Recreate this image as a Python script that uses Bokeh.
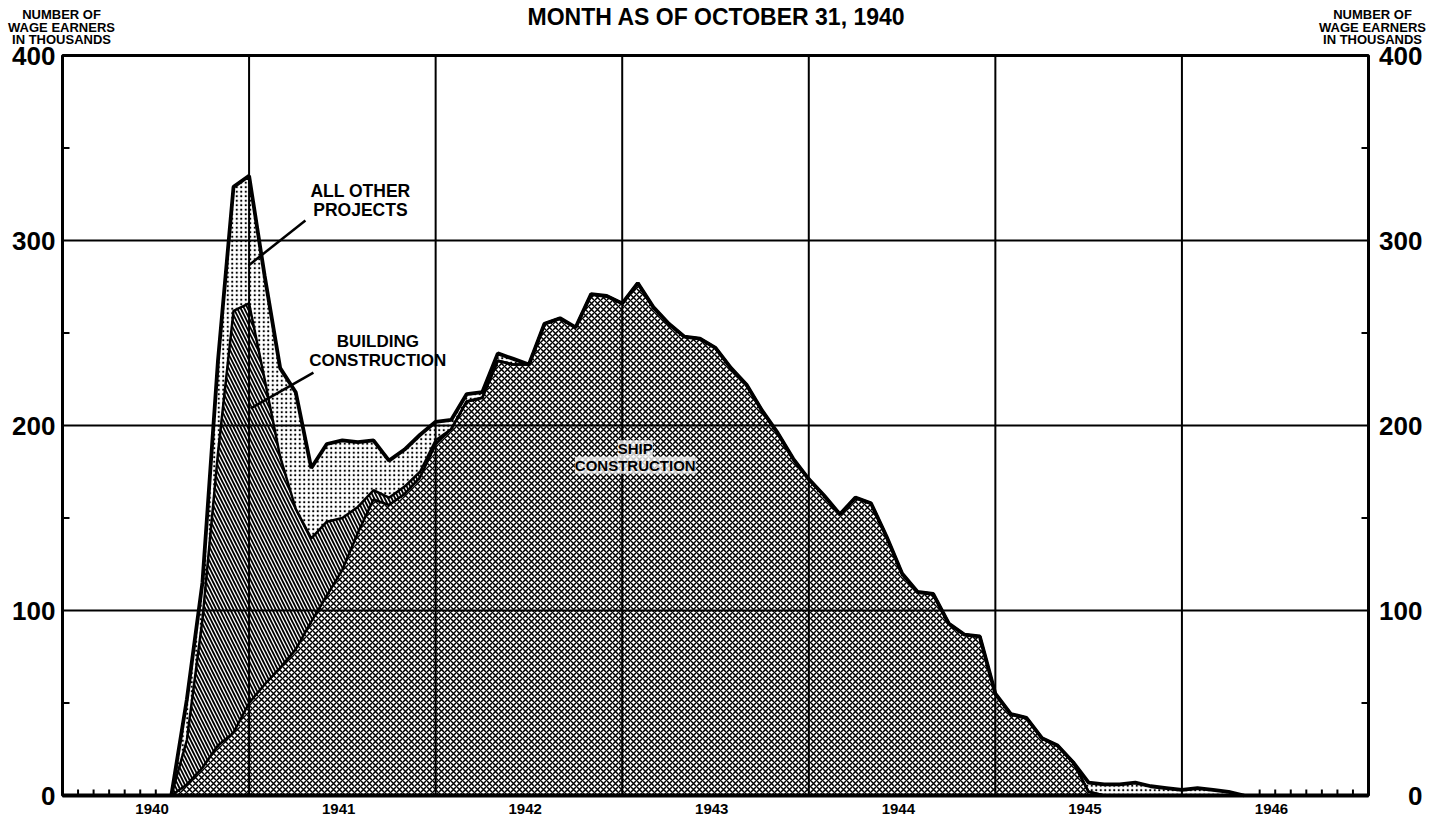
from bokeh.plotting import figure
from bokeh.models import Range1d, Label
from bokeh.core.properties import value
from bokeh.embed import file_html
from bokeh.resources import INLINE

# ---------------- data (thousands of wage earners, monthly) ----------------
# month index counted from January 1940 (Aug 1940 .. May 1946)
month_idx = list(range(7, 77))

ship = [0, 6, 15, 27, 34, 50, 60, 69, 79, 94, 108, 122, 142, 160, 157, 163, 172, 190,
        198, 213, 215, 235, 233, 233, 255, 258, 253, 271, 270, 266, 277, 264, 255, 248,
        247, 242, 231, 222, 208, 196, 182, 171, 162, 152, 161, 158, 140, 120, 110, 109,
        93, 87, 86, 55, 44, 42, 31, 27, 18, 2,
        0, 0, 0, 0, 0, 0, 0, 0, 0, 0]

building = [0, 24, 80, 158, 228, 216, 165, 114, 76, 45, 40, 28, 14, 5, 4, 4, 3, 2] + [0] * 52

other = ([0, 22, 20, 50, 67, 69, 56, 48, 63, 38, 42, 42, 35, 27, 20, 20, 20, 10, 5, 4, 3, 4, 3]
         + [0] * 36
         + [5, 6, 6, 7, 5, 4, 3, 4, 3, 2, 0])

years = [1940, 1941, 1942, 1943, 1944, 1945, 1946]
year_labels = ["1940", "1941", "1942", "1943", "1944", "1945", "1946"]
y_ticks = [0, 100, 200, 300, 400]
y_minor = [50, 150, 250, 350]
tick_months = [1, 2, 3, 4, 5, 6, 77, 78, 79, 80, 81, 82, 83]

title_text = "MONTH AS OF OCTOBER 31, 1940"
axis_title = ["NUMBER OF", "WAGE EARNERS", "IN THOUSANDS"]

FONT = "Liberation Sans"

# ---------------- layout / scales ----------------
W, H = 1436, 818
FL, FR, FT, FB = 62, 1368, 55, 795          # plot frame in pixels
X0, X1 = years[0], years[-1] + 1
Y0, Y1 = y_ticks[0], y_ticks[-1]
KX = (FR - FL) / (X1 - X0)                   # px per year
KY = (FB - FT) / (Y1 - Y0)                   # px per thousand


def dx(px):
    return px / KX


def dy(px):
    return px / KY


p = figure(width=W, height=H,
           x_range=Range1d(X0 - dx(FL), X1 + dx(W - FR)),
           y_range=Range1d(Y0 - dy(H - FB), Y1 + dy(FT)),
           output_backend="svg", toolbar_location=None,
           x_axis_type=None, y_axis_type=None,
           min_border_left=0, min_border_right=0, min_border_top=0, min_border_bottom=0)
p.outline_line_color = None
p.background_fill_color = "white"
p.border_fill_color = "white"

# ---------------- grid ----------------
gx = years[1:]
p.segment(x0=gx, y0=[Y0] * len(gx), x1=gx, y1=[Y1] * len(gx), line_color="black", line_width=2)
gy = y_ticks[1:-1]
p.segment(x0=[X0] * len(gy), y0=gy, x1=[X1] * len(gy), y1=gy, line_color="black", line_width=2)

# ---------------- stacked areas ----------------
x = [X0 + m / 12 for m in month_idx]
s_top = ship
b_top = [a + b for a, b in zip(ship, building)]
t_top = [a + b for a, b in zip(b_top, other)]
zero = [0] * len(x)

p.varea(x=x, y1=zero, y2=s_top, fill_alpha=0,
        hatch_pattern="diagonal_cross", hatch_scale=6, hatch_weight=1.5, hatch_color="black")
p.varea(x=x, y1=s_top, y2=b_top, fill_alpha=0,
        hatch_pattern="left_diagonal_line", hatch_scale=7, hatch_weight=1.8, hatch_color="black")
p.varea(x=x, y1=b_top, y2=t_top, fill_alpha=0,
        hatch_pattern="dot", hatch_scale=4.5, hatch_weight=1.6, hatch_color="black")

p.line(x=x, y=s_top, line_color="black", line_width=2.5)
p.line(x=x, y=b_top, line_color="black", line_width=2.5)
p.line(x=x, y=t_top, line_color="black", line_width=3.8)

# ---------------- frame & ticks ----------------
p.quad(left=[X0], right=[X1], bottom=[Y0], top=[Y1], fill_alpha=0,
       line_color="black", line_width=3)
p.segment(x0=[X0], y0=[Y0], x1=[X1], y1=[Y0], line_color="black", line_width=4)

tx = [X0 + m / 12 for m in tick_months]
p.segment(x0=tx, y0=[Y0] * len(tx), x1=tx, y1=[Y0 + dy(6)] * len(tx),
          line_color="black", line_width=2)
p.segment(x0=[X0] * len(y_minor), y0=y_minor, x1=[X0 + dx(7)] * len(y_minor), y1=y_minor,
          line_color="black", line_width=2)
p.segment(x0=[X1] * len(y_minor), y0=y_minor, x1=[X1 - dx(7)] * len(y_minor), y1=y_minor,
          line_color="black", line_width=2)

# ---------------- tick labels ----------------
bold = dict(text_font=value(FONT), text_font_style="bold", text_color="black")
ylab = [str(v) for v in y_ticks]
p.text(x=[X0 - dx(7)] * len(y_ticks), y=y_ticks, text=ylab, text_align="right",
       text_baseline="middle", text_font_size="26px", **bold)
p.text(x=[X1 + dx(54)] * len(y_ticks), y=y_ticks, text=ylab, text_align="right",
       text_baseline="middle", text_font_size="26px", **bold)
p.text(x=[yr + 0.48 for yr in years], y=[Y0 - dy(13)] * len(years), text=year_labels,
       text_align="center", text_baseline="middle", text_font_size="15px", **bold)

# ---------------- titles ----------------
p.text(x=[(X0 + X1) / 2 + dx(1)], y=[Y1 + dy(FT - 16)], text=[title_text],
       text_align="center", text_baseline="middle", text_font_size="23px", **bold)
t_off = [FT - 14, FT - 26.5, FT - 39]
for t, off in zip(axis_title, t_off):
    p.text(x=[X0 - dx(1), X1 + dx(4)], y=[Y1 + dy(off)] * 2, text=[t, t],
           text_align="center", text_baseline="middle", text_font_size="13px", **bold)

# ---------------- annotations ----------------
ann = dict(text_align="center", text_baseline="middle", **bold)
p.text(x=[1941.597, 1941.597], y=[327, 316.5], text=["ALL OTHER", "PROJECTS"],
       text_font_size="17.5px", **ann)
p.text(x=[1941.69, 1941.69], y=[245.5, 235], text=["BUILDING", "CONSTRUCTION"],
       text_font_size="17px", **ann)

leader_x0 = [1941.302, 1941.345]
leader_y0 = [310.8, 228.6]
leader_x1 = [1940.997, 1941.008]
leader_y1 = [286.5, 209.2]
p.segment(x0=leader_x0, y0=leader_y0, x1=leader_x1, y1=leader_y1,
          line_color="black", line_width=2.5)

for t, yy in [("SHIP", 187.5), ("CONSTRUCTION", 178.5)]:
    p.add_layout(Label(x=1943.07, y=yy, text=t, text_font=FONT, text_font_style="bold",
                       text_font_size="15px", text_color="black", text_align="center",
                       text_baseline="middle", background_fill_color="white",
                       background_fill_alpha=0.75))

open("out.html", "w").write(file_html(p, INLINE))
